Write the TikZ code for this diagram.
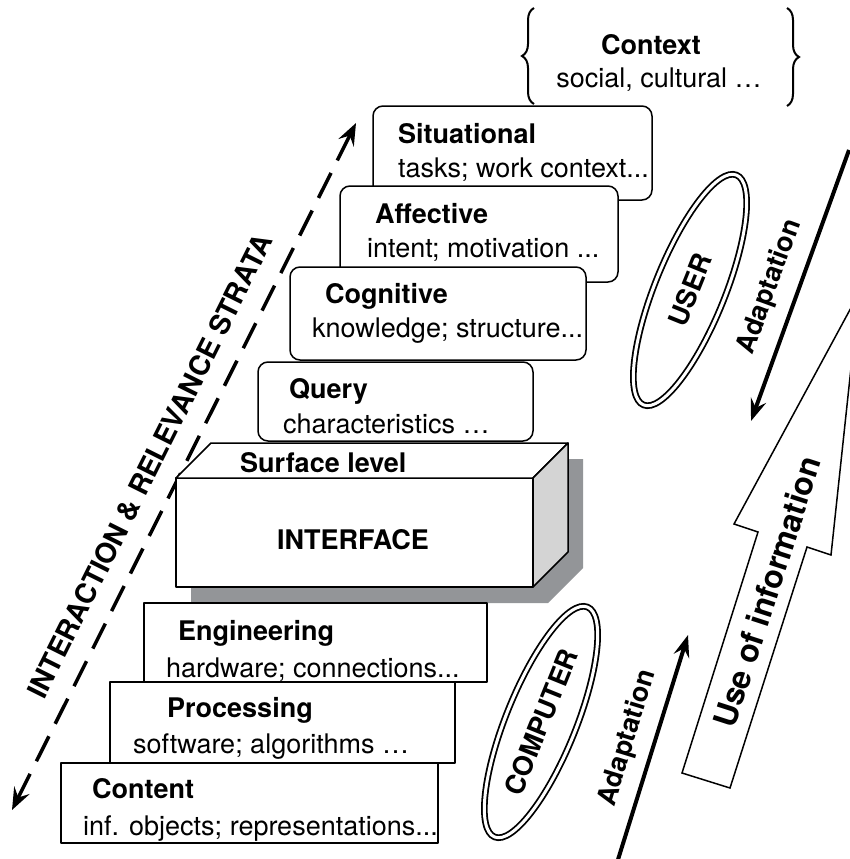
\documentclass[tikz,border=0pt]{standalone}
\usepackage{fontspec}
\setmainfont{TeX Gyre Heros}
\usetikzlibrary{shapes.geometric,arrows.meta,decorations.pathreplacing}
\definecolor{shadowgray}{HTML}{939598}
\definecolor{sidegray}{HTML}{D4D4D4}
\begin{document}
\fontsize{27}{32}\selectfont
\begin{tikzpicture}[
	x=1pt, y=-1pt,
	box/.style={draw, fill=white, line width=1.5pt, line join=round, inner sep=0pt, outer sep=0pt},
	softbox/.style={box, rounded corners=10pt},
	title/.style={anchor=base west, inner sep=0pt, font=\bfseries},
	detail/.style={anchor=base west, inner sep=0pt},
	ring/.style={ellipse, draw, double, double distance=3pt, line width=1.8pt, minimum width=248pt, minimum height=70pt, inner sep=0pt, rotate=68, font=\bfseries},
	strata/.style={line width=3.5pt, dash pattern=on 28pt off 14pt, {Stealth[length=22pt,width=17pt,inset=8pt]}-{Stealth[length=22pt,width=17pt,inset=8pt]}},
	adapt/.style={line width=4pt, -{Stealth[length=22pt,width=16pt,inset=8pt]}},
	turned/.style={rotate=#1, font=\bfseries, inner sep=0pt},
	bracket/.style={decorate, decoration={brace, amplitude=12pt}, line width=2pt},
]
\useasboundingbox (0,0) rectangle (850,859);
\clip (0,0) rectangle (850,859);

\coordinate (stratalow) at (12,810);
\coordinate (stratahigh) at (356,123);
\draw[strata] (stratalow) -- (stratahigh);
\node[turned=63.5, font=\bfseries\fontsize{28}{32}\selectfont] (stratalabel) at (150,466) {INTERACTION \& RELEVANCE STRATA};

\draw[bracket] (534,104) -- (534,8);
\draw[bracket] (787,8) -- (787,106);
\node[anchor=base, font=\bfseries] (context) at (651,55) {Context};
\node[anchor=base] (contextsub) at (659,88) {social, cultural …};

\node[softbox, minimum width=279pt, minimum height=94pt] (situational) at (512.5,153) {};
\node[title] (situationaltitle) at (398,143) {Situational};
\node[detail] (situationaltext) at (398,177) {tasks; work context...};
\node[softbox, minimum width=278pt, minimum height=96pt] (affective) at (479,234) {};
\node[title] (affectivetitle) at (375,223) {Affective};
\node[detail] (affectivetext) at (367,257) {intent; motivation ...};
\node[softbox, minimum width=296pt, minimum height=93pt] (cognitive) at (438,313.5) {};
\node[title] (cognitivetitle) at (325,303) {Cognitive};
\node[detail] (cognitivetext) at (312,337) {knowledge; structure...};
\node[softbox, minimum width=275pt, minimum height=79pt] (query) at (395.5,401.5) {};
\node[title] (querytitle) at (289,398) {Query};
\node[detail] (querytext) at (283,433) {characteristics …};

\fill[shadowgray] (191,494) -- (226,459) -- (583,459) -- (583,568) -- (548,603) -- (191,603) -- cycle;
\node[box, minimum width=357pt, minimum height=109pt] (interface) at (354.5,532.5) {};
\draw[box] (interface.north west) -- ++(35,-35) -- ++(357,0) -- (interface.north east) -- cycle;
\draw[box, fill=sidegray] (interface.north east) -- ++(35,-35) -- ++(0,109) -- (interface.south east) -- cycle;
\node[title] (surface) at (240,472) {Surface level};
\node[font=\bfseries] (interfacetext) at (353,540) {INTERFACE};

\node[box, minimum width=343pt, minimum height=79pt] (engineering) at (315.5,642.5) {};
\node[title] (engineeringtitle) at (178,640) {Engineering};
\node[detail] (engineeringtext) at (166,677) {hardware; connections...};
\node[box, minimum width=345pt, minimum height=81pt] (processing) at (282.5,722.5) {};
\node[title] (processingtitle) at (167,717) {Processing};
\node[detail] (processingtext) at (133,753) {software; algorithms …};
\node[box, minimum width=377pt, minimum height=80pt] (content) at (249.5,803) {};
\node[title] (contenttitle) at (92,798) {Content};
\node[detail] (contenttext) at (83,835) {inf. objects; representations...};

\node[ring] (user) at (690,290) {USER};
\node[ring] (computer) at (541,722) {COMPUTER};

\coordinate (adaptuserstart) at (849,150);
\coordinate (adaptusertip) at (751,421);
\draw[adapt] (adaptuserstart) -- (adaptusertip);
\node[turned=70] (adaptuser) at (770,287) {Adaptation};
\coordinate (adaptcompstart) at (616,866);
\coordinate (adaptcomptip) at (688,635);
\draw[adapt] (adaptcompstart) -- (adaptcomptip);
\node[turned=73] (adaptcomp) at (628,738) {Adaptation};

\draw[line width=1.5pt, fill=white] (682,773) -- (758,532) -- (734,524) -- (859,293) -- (831,555) -- (807,547) -- (730,788) -- cycle;
\node[turned=72, font=\bfseries\fontsize{32}{38}\selectfont] (useinfo) at (767,592) {Use of information};
\end{tikzpicture}
\end{document}
